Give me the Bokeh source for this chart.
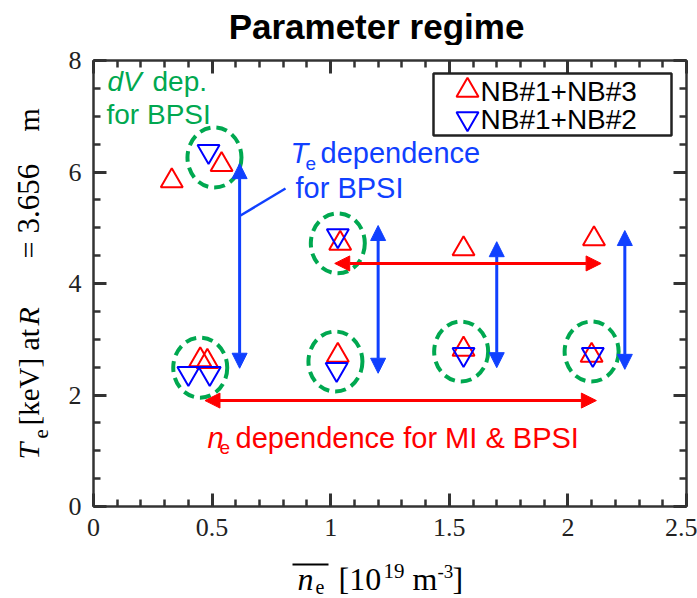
import numpy as np
from bokeh.plotting import figure
from bokeh.layouts import row, column
from bokeh.models import (Range1d, LinearAxis, SingleIntervalTicker, Label, Arrow,
                          NormalHead, BoxAnnotation, ColumnDataSource)
from bokeh.embed import file_html
from bokeh.resources import INLINE

# ---------------- data ----------------
nb13_ne = [0.33, 0.54, 1.04, 1.56, 2.11, 0.45, 0.48, 1.03, 1.56, 2.10]
nb13_te = [5.84, 6.13, 4.72, 4.62, 4.80, 2.63, 2.60, 2.71, 2.82, 2.71]
nb12_ne = [0.485, 1.03, 0.40, 0.49, 1.025, 1.56, 2.105]
nb12_te = [6.37, 4.86, 2.39, 2.39, 2.46, 2.73, 2.73]
dv_ne = [0.51, 1.03, 0.45, 1.02, 1.55, 2.10]
dv_te = [6.26, 4.72, 2.49, 2.60, 2.78, 2.78]
te_scan_ne = [0.616, 1.20, 1.70, 2.24]
te_scan_lo = [2.48, 2.39, 2.49, 2.46]
te_scan_hi = [6.15, 5.04, 4.75, 4.95]
ne_scan_te = [4.36, 1.90]
ne_scan_lo = [1.017, 0.47]
ne_scan_hi = [2.14, 2.12]
x_ticks = [0, 0.5, 1, 1.5, 2, 2.5]
x_tick_labels = ["0", "0.5", "1", "1.5", "2", "2.5"]
series_names = ["NB#1+NB#3", "NB#1+NB#2"]

# ---------------- layout (pixels of the whole page) ----------------
W, H = 697, 598
LW = 52            # left strip (y label)
TH = 45            # top strip (title)
BH = 50            # bottom strip (x label)
FL, FR, FT, FB = 93, 686, 60, 506   # plot frame on the page
X0, X1, Y0, Y1 = 0.0, 2.5, 0.0, 8.0
BASE = 0.32        # baseline correction (fraction of font size)

def px(x):
    return X0 + (x - FL) / (FR - FL) * (X1 - X0)

def py(y):
    return Y0 + (FB - y) / (FB - FT) * (Y1 - Y0)

RED = "#ff0000"
BLUE_M = "#0000ff"
BLUE = "#1040ff"
GREEN = "#00a850"
AX = "#333333"
SANS = "Liberation Sans"
SERIF = "Liberation Serif"

MW, MH = W - LW, H - TH - BH
p = figure(width=MW, height=MH, x_range=Range1d(X0, X1), y_range=Range1d(Y0, Y1),
           output_backend="svg", toolbar_location=None, title=None,
           min_border_left=FL - LW, min_border_right=W - FR,
           min_border_top=FT - TH, min_border_bottom=(TH + MH) - FB)
p.grid.visible = False
p.outline_line_color = None
p.background_fill_color = "white"
p.border_fill_color = "white"

xt = SingleIntervalTicker(interval=0.5, num_minor_ticks=5)
yt = SingleIntervalTicker(interval=2, num_minor_ticks=4)
p.xaxis.ticker = xt
p.yaxis.ticker = yt
p.xaxis.major_label_overrides = dict(zip(x_ticks, x_tick_labels))

top_ax = LinearAxis(ticker=xt)
right_ax = LinearAxis(ticker=yt)
p.add_layout(top_ax, "above")
p.add_layout(right_ax, "right")

def style(ax, labels):
    ax.axis_line_width = 2.5
    ax.axis_line_color = AX
    ax.major_tick_line_color = AX
    ax.minor_tick_line_color = AX
    ax.major_tick_line_width = 3
    ax.minor_tick_line_width = 2.5
    ax.major_tick_in = 13
    ax.major_tick_out = 0
    ax.minor_tick_in = 7
    ax.minor_tick_out = 0
    if labels:
        ax.major_label_text_font = SERIF
        ax.major_label_text_font_size = "26px"
        ax.major_label_text_color = "#222222"
        ax.major_label_standoff = 12
    else:
        ax.major_label_text_font_size = "0px"
        ax.major_label_text_color = None
        ax.major_label_standoff = 0

for a in p.xaxis:
    style(a, a is not top_ax)
for a in p.yaxis:
    style(a, a is not right_ax)

# dashed green circles (dV scan)
p.ellipse(dv_ne, dv_te, width=54, height=60, width_units="screen", height_units="screen",
          fill_color=None, line_color=GREEN, line_width=4, line_dash="11 6")

# data markers
p.scatter(nb13_ne, nb13_te, marker="triangle", size=22, fill_color=None,
          line_color=RED, line_width=2)
p.scatter(nb12_ne, nb12_te, marker="inverted_triangle", size=22, fill_color=None,
          line_color=BLUE_M, line_width=2)

# leader line for the Te label
p.segment(x0=[px(240)], y0=[py(215)], x1=[px(285)], y1=[py(188)],
          line_color=BLUE, line_width=2.5)

# scan arrows
te_src = ColumnDataSource(dict(x=te_scan_ne, y0=te_scan_lo, y1=te_scan_hi))
p.add_layout(Arrow(x_start="x", y_start="y0", x_end="x", y_end="y1", source=te_src,
                   line_color=BLUE, line_width=3,
                   start=NormalHead(size=15, fill_color=BLUE, line_color=BLUE, line_width=1),
                   end=NormalHead(size=15, fill_color=BLUE, line_color=BLUE, line_width=1)))
ne_src = ColumnDataSource(dict(y=ne_scan_te, x0=ne_scan_lo, x1=ne_scan_hi))
p.add_layout(Arrow(x_start="x0", y_start="y", x_end="x1", y_end="y", source=ne_src,
                   line_color=RED, line_width=3,
                   start=NormalHead(size=15, fill_color=RED, line_color=RED, line_width=1),
                   end=NormalHead(size=15, fill_color=RED, line_color=RED, line_width=1)))

def mk_label(x, y, text, size, color="black", font=SANS, style_="normal",
             align="left", angle=0.0):
    return Label(x=x, y=y, text=text, text_font=font, text_font_size=f"{size}px",
                 text_font_style=style_, text_color=color, text_align=align,
                 text_baseline="alphabetic", angle=angle)

def lab(text, gx, gy, size, color="black", **kw):
    p.add_layout(mk_label(px(gx), py(gy - BASE * size), text, size, color, **kw))

# legend (drawn by hand)
p.add_layout(BoxAnnotation(left=px(433), right=px(671), top=py(73), bottom=py(135),
                           fill_color=None, fill_alpha=0, line_color="#222222",
                           line_alpha=1, line_width=2.5))
p.scatter([px(467)], [py(90)], marker="triangle", size=22, fill_color=None,
          line_color=RED, line_width=2)
p.scatter([px(467)], [py(118)], marker="inverted_triangle", size=22, fill_color=None,
          line_color=BLUE_M, line_width=2)
lab(series_names[0], 480, 100, 28)
lab(series_names[1], 480, 128, 28)

# green annotation
lab("dV", 107, 90, 28, GREEN, style_="italic")
lab("dep.", 152, 90, 28, GREEN)
lab("for BPSI", 106, 123, 28, GREEN)

# blue annotation
lab("T", 290, 162, 29, BLUE, style_="italic")
lab("e", 305, 169, 19, BLUE)
lab("dependence", 320, 162, 29, BLUE)
lab("for BPSI", 295, 197, 29, BLUE)

# red annotation
lab("n", 207, 447, 29, RED, style_="italic")
lab("e", 219, 453, 19, RED)
lab("dependence for MI & BPSI", 235, 447, 29, RED)

# ---------------- strips for title and axis titles ----------------
# top / bottom strips share the frame columns of the main plot: their x range is
# expressed in page pixels (FL..FR), y in local pixels from the strip bottom.
def hstrip(h):
    f = figure(width=MW, height=h, x_range=Range1d(FL, FR), y_range=Range1d(0, h),
               output_backend="svg", toolbar_location=None, title=None,
               min_border_left=FL - LW, min_border_right=W - FR,
               min_border_top=0, min_border_bottom=0,
               x_axis_location=None, y_axis_location=None)
    f.grid.visible = False
    f.outline_line_color = None
    f.background_fill_color = "white"
    f.border_fill_color = "white"
    return f

left = figure(width=LW, height=H, x_range=Range1d(0, LW), y_range=Range1d(0, H),
              output_backend="svg", toolbar_location=None, title=None, min_border=0,
              x_axis_location=None, y_axis_location=None)
left.grid.visible = False
left.outline_line_color = None
left.background_fill_color = "white"
left.border_fill_color = "white"

top = hstrip(TH)
bottom = hstrip(BH)

def tlab(fig, oy, h, text, gx, gy, size, angle=0.0, **kw):
    if angle:
        gx = gx - BASE * size
    else:
        gy = gy - BASE * size
    fig.add_layout(mk_label(gx, h - (gy - oy), text, size, angle=angle, **kw))

# title
tlab(top, 0, TH, "Parameter regime", 376, 37, 35, style_="bold", align="center")

# x axis title
OB = TH + MH
bottom.add_layout(BoxAnnotation(left=292, right=328, top=BH - (563 - OB),
                                bottom=BH - (565 - OB), fill_color="black", fill_alpha=1,
                                line_color=None))
for t, gx, gy, sz, st in [("n", 297, 589, 32, "italic"), ("e", 315, 593, 20, "normal"),
                          ("[10", 338, 589, 32, "normal"), ("19", 383, 577, 21, "normal"),
                          ("m", 412, 589, 32, "normal"), ("-3", 437, 577, 19, "normal"),
                          ("]", 452, 589, 32, "normal")]:
    tlab(bottom, OB, BH, t, gx, gy, sz, font=SERIF, style_=st)

# y axis title (rotated)
R = np.pi / 2
for t, gx, gy, sz, st in [("T", 38, 459, 30, "italic"), ("e", 47, 438, 21, "normal"),
                          ("[keV]", 38, 425, 29, "normal"), ("at", 38, 350, 30, "normal"),
                          ("R", 38, 325, 30, "italic"), ("=", 38, 258, 30, "normal"),
                          ("3.656", 38, 233, 31, "normal"), ("m", 38, 131, 30, "normal")]:
    tlab(left, 0, H, t, gx, gy, sz, font=SERIF, style_=st, angle=R)

layout = row(left, column(top, p, bottom, spacing=0), spacing=0)

with open("out.html", "w") as f:
    f.write(file_html(layout, INLINE))
